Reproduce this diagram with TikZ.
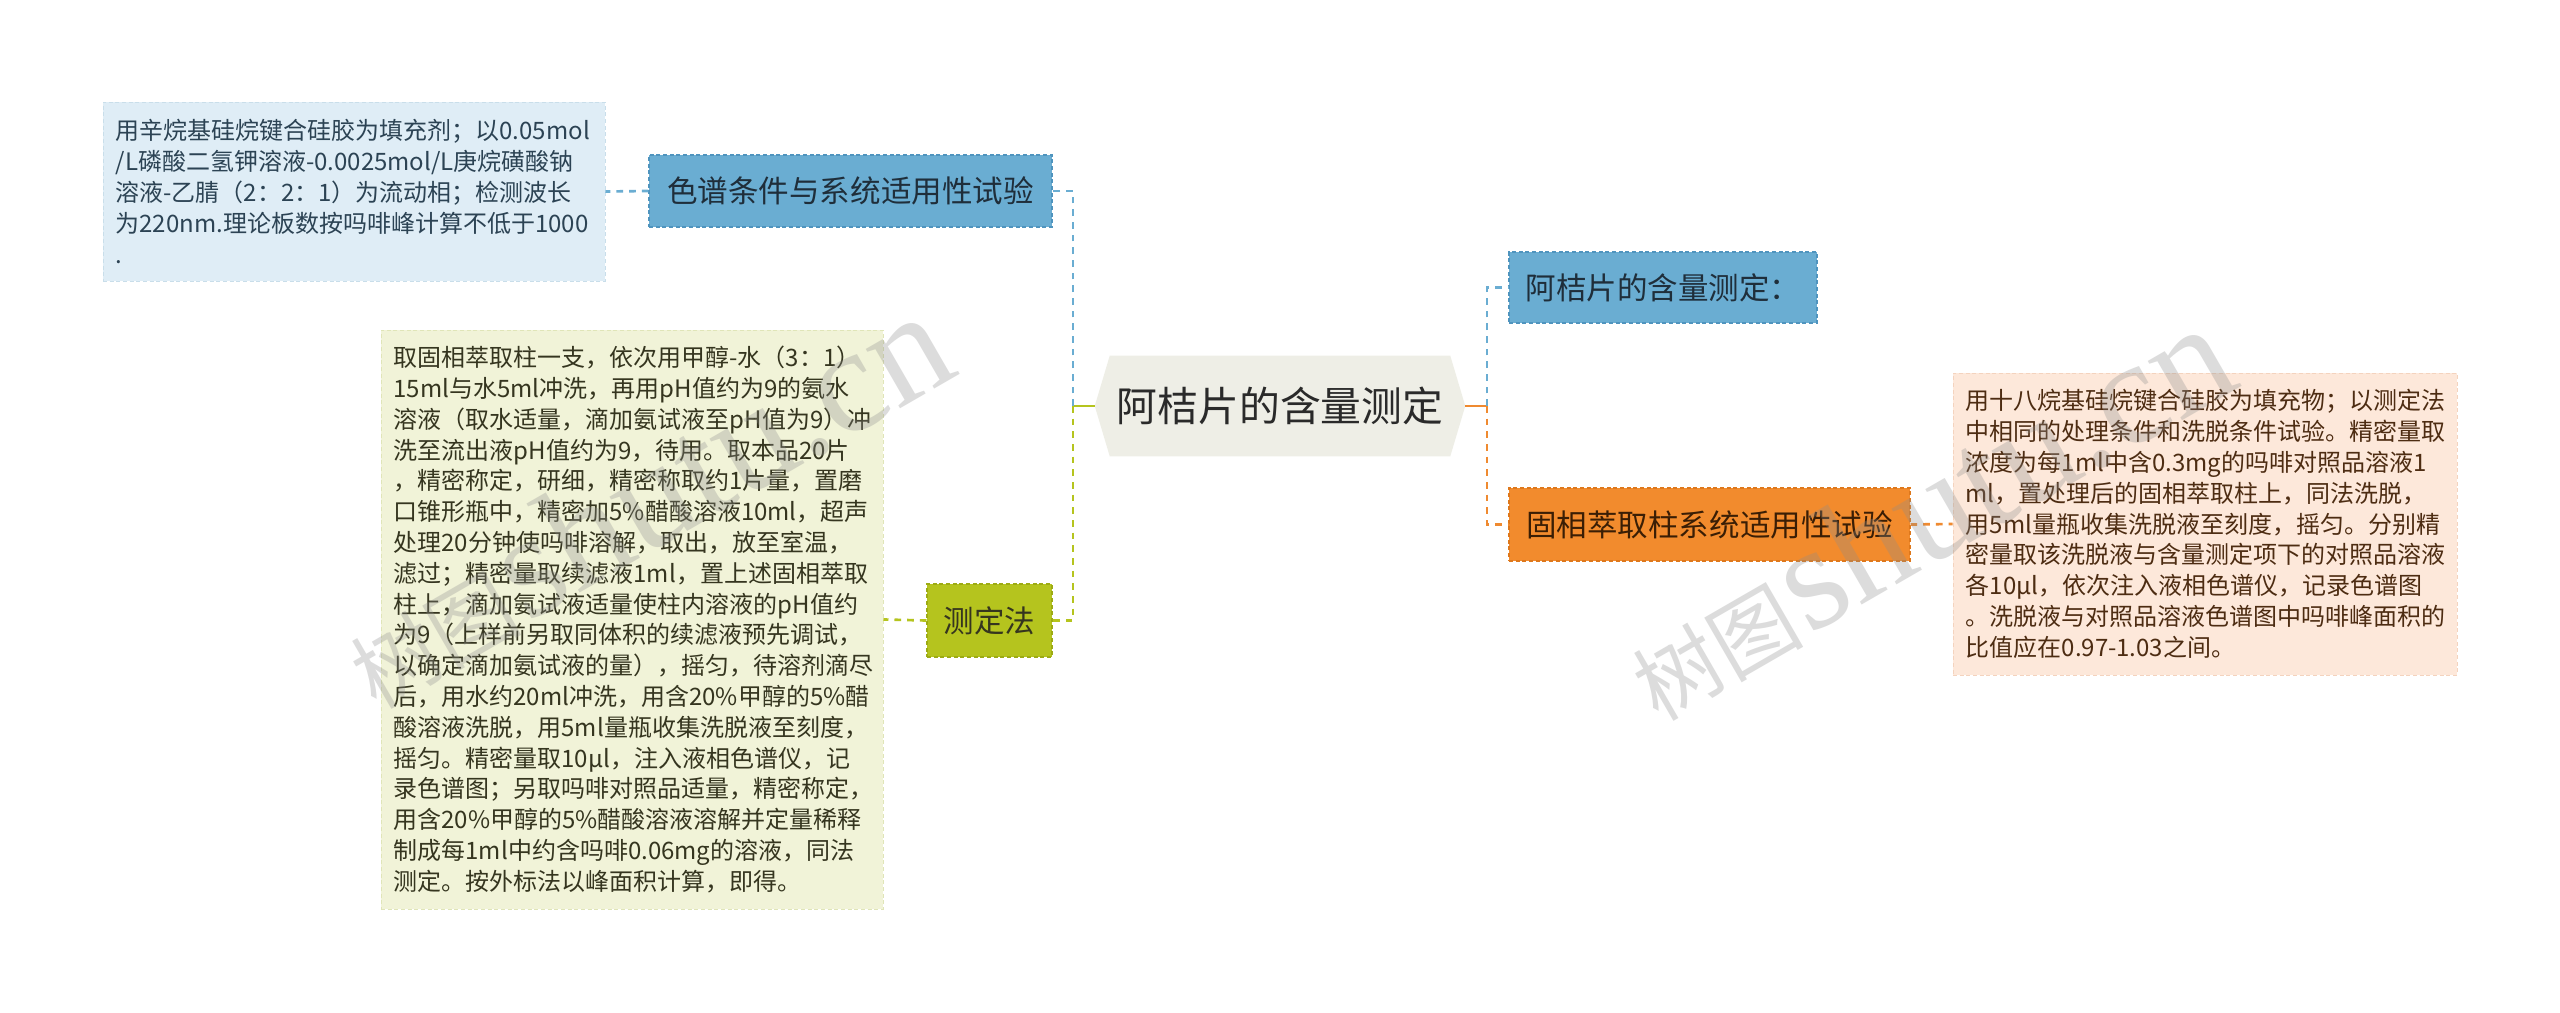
\documentclass[tikz,border=0pt]{standalone}
\usepackage{fontspec}
\setmainfont{Noto Sans CJK SC}
\newfontfamily\wmserif{Liberation Serif}
\usetikzlibrary{backgrounds}
\hyphenpenalty=10000
\exhyphenpenalty=10000
\definecolor{lbfill}{HTML}{DFEDF6}
\definecolor{lbborder}{HTML}{C9DEEA}
\definecolor{lbtext}{HTML}{2C4354}
\definecolor{bnode}{HTML}{6AADD2}
\definecolor{bborder}{HTML}{4F94BE}
\definecolor{bline}{HTML}{6AADD2}
\definecolor{btext}{HTML}{1F2E3A}
\definecolor{rootfill}{HTML}{EEEEE6}
\definecolor{roottext}{HTML}{2A2A2A}
\definecolor{gnode}{HTML}{B5C41E}
\definecolor{gborder}{HTML}{9DAB14}
\definecolor{gline}{HTML}{B5C41E}
\definecolor{gfill}{HTML}{F1F3D8}
\definecolor{gbfaint}{HTML}{E0E5B8}
\definecolor{gtext}{HTML}{35351F}
\definecolor{onode}{HTML}{F28B2D}
\definecolor{oborder}{HTML}{DE781C}
\definecolor{oline}{HTML}{EF8A30}
\definecolor{ofill}{HTML}{FDE8DA}
\definecolor{obfaint}{HTML}{F4D3BE}
\definecolor{otext}{HTML}{4D2C12}
\definecolor{ontext}{HTML}{3A1E05}
\begin{document}
\begin{tikzpicture}[x=0.75pt,y=-0.75pt,
  topicbox/.style={rectangle, inner sep=0pt, line width=0.8pt, dash pattern=on 3pt off 2pt,
    font=\fontsize{22.9pt}{27pt}\selectfont},
  notebox/.style={rectangle, inner xsep=9.5pt, inner ysep=0pt, align=left,
    line width=0.7pt, dash pattern=on 3pt off 2pt,
    font=\fontsize{18pt}{23.1pt}\selectfont},
  conn/.style={line width=2pt, dash pattern=on 5pt off 4.5pt},
  stub/.style={line width=2pt},
  watermark/.style={opacity=0.3, text=black!45, rotate=30, inner sep=0pt}
]
\begin{pgfonlayer}{background}
  \fill[white] (0,0) rectangle (2560,1013);
\end{pgfonlayer}
\useasboundingbox (0,0) rectangle (2560,1013);

% root
\node[rectangle, inner sep=0pt, minimum width=277.5pt, minimum height=75pt,
  text=roottext, font=\fontsize{30.6pt}{36pt}\selectfont] (root) at (1280,406) {阿桔片的含量测定};
\begin{pgfonlayer}{background}
  \fill[rootfill] (root.west) -- ([xshift=11.25pt]root.north west) -- ([xshift=-11.25pt]root.north east)
    -- (root.east) -- ([xshift=-11.25pt]root.south east) -- ([xshift=11.25pt]root.south west) -- cycle;
\end{pgfonlayer}

% left side
\node[topicbox, draw=bborder, fill=bnode, text=btext, minimum width=302.25pt, minimum height=54pt]
  (lblue) at (850.5,191) {色谱条件与系统适用性试验};
\node[notebox, draw=lbborder, fill=lbfill, text=lbtext, text width=357.5pt, minimum height=134.25pt]
  (ltext) at (354,191.5) {用辛烷基硅烷键合硅胶为填充剂；以0.05mol\\
/L磷酸二氢钾溶液-0.0025mol/L庚烷磺酸钠\\
溶液-乙腈（2：2：1）为流动相；检测波长\\
为220nm.理论板数按吗啡峰计算不低于1000\\
.};

\node[topicbox, draw=gborder, fill=gnode, text=gtext, minimum width=93.75pt, minimum height=54.75pt]
  (green) at (989.5,620.5) {测定法};
\node[notebox, draw=gbfaint, fill=gfill, text=gtext, text width=357.5pt, minimum height=434.25pt]
  (gtext) at (632,619.5) {取固相萃取柱一支，依次用甲醇-水（3：1）\\
15ml与水5ml冲洗，再用pH值约为9的氨水\\
溶液（取水适量，滴加氨试液至pH值为9）冲\\
洗至流出液pH值约为9，待用。取本品20片\\
，精密称定，研细，精密称取约1片量，置磨\\
口锥形瓶中，精密加5\%醋酸溶液10ml，超声\\
处理20分钟使吗啡溶解，取出，放至室温，\\
滤过；精密量取续滤液1ml，置上述固相萃取\\
柱上，滴加氨试液适量使柱内溶液的pH值约\\
为9（上样前另取同体积的续滤液预先调试，\\
以确定滴加氨试液的量），摇匀，待溶剂滴尽\\
后，用水约20ml冲洗，用含20\%甲醇的5\%醋\\
酸溶液洗脱，用5ml量瓶收集洗脱液至刻度，\\
摇匀。精密量取10μl，注入液相色谱仪，记\\
录色谱图；另取吗啡对照品适量，精密称定，\\
用含20\%甲醇的5\%醋酸溶液溶解并定量稀释\\
制成每1ml中约含吗啡0.06mg的溶液，同法\\
测定。按外标法以峰面积计算，即得。};

% right side
\node[topicbox, draw=bborder, fill=bnode, text=btext, minimum width=231pt, minimum height=53.25pt]
  (rblue) at (1663,287.5) {阿桔片的含量测定：};
\node[topicbox, draw=oborder, fill=onode, text=ontext, minimum width=300.75pt, minimum height=54.75pt]
  (orange) at (1709.5,524.5) {固相萃取柱系统适用性试验};
\node[notebox, draw=obfaint, fill=ofill, text=otext, text width=359pt, minimum height=226.5pt]
  (otext) at (2205,524) {用十八烷基硅烷键合硅胶为填充物；以测定法\\
中相同的处理条件和洗脱条件试验。精密量取\\
浓度为每1ml中含0.3mg的吗啡对照品溶液1\\
ml，置处理后的固相萃取柱上，同法洗脱，\\
用5ml量瓶收集洗脱液至刻度，摇匀。分别精\\
密量取该洗脱液与含量测定项下的对照品溶液\\
各10μl，依次注入液相色谱仪，记录色谱图\\
。洗脱液与对照品溶液色谱图中吗啡峰面积的\\
比值应在0.97-1.03之间。};

% junctions
\coordinate (jl) at (1073,406);
\coordinate (jr) at (1487,406);

% connectors
\draw[stub, gline] (root.west) -- (jl);
\draw[conn, bline] (jl) |- (lblue.east);
\draw[conn, gline] (jl) |- (green.east);
\draw[conn, bline] (lblue.west) -- (ltext.east);
\draw[conn, gline] (green.west) -- (gtext.east);
\draw[stub, oline] (root.east) -- (jr);
\draw[conn, bline] (jr) |- (rblue.west);
\draw[conn, oline] (jr) |- (orange.west);
\draw[conn, oline] (orange.east) -- (otext.west);

% watermarks
\node[watermark] (wm1) at (645,500) {{\fontsize{64pt}{70pt}\selectfont 树图} {\wmserif\fontsize{112pt}{120pt}\selectfont shutu.cn}};
\node[watermark] (wm2) at (1927,512) {{\fontsize{64pt}{70pt}\selectfont 树图} {\wmserif\fontsize{112pt}{120pt}\selectfont shutu.cn}};
\end{tikzpicture}
\end{document}
